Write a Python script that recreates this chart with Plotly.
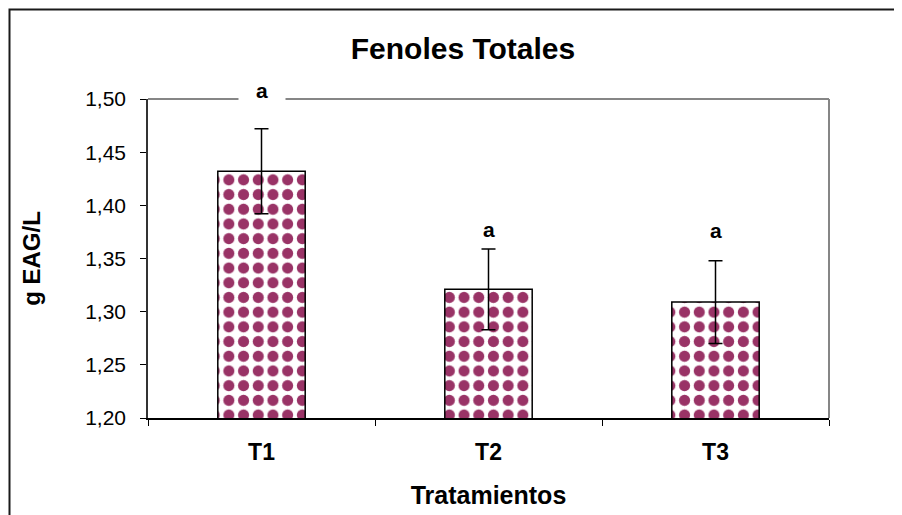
import plotly.graph_objects as go

categories = ["T1", "T2", "T3"]
values = [1.432, 1.321, 1.309]
errors = [0.040, 0.038, 0.039]
letters = ["a", "a", "a"]
letter_y = [1.5085, 1.378, 1.377]
y_ticks = [1.20, 1.25, 1.30, 1.35, 1.40, 1.45, 1.50]
y_tick_labels = ["1,20", "1,25", "1,30", "1,35", "1,40", "1,45", "1,50"]
Y_RANGE = [1.20, 1.50]

FONT = "Liberation Sans, Arial, sans-serif"
OFF = 8  # page body margin
W, H = 902 - OFF, 515 - OFF
ML, MT = 148 - OFF, 99 - OFF
PW, PH = 829 - 148, 418 - 99
MR, MB = W - ML - PW, H - MT - PH

fig = go.Figure()
fig.add_trace(go.Bar(
    x=categories, y=values,
    marker=dict(
        color="#993366",
        line=dict(color="black", width=1.5),
        pattern=dict(shape=".", fgcolor="#993366", bgcolor="white",
                     fillmode="replace", size=14.7, solidity=0.45),
    ),
    error_y=dict(type="data", array=errors, visible=True,
                 color="black", thickness=1.5, width=7),
    width=0.385,
    showlegend=False,
))

for c, t, ly in zip(categories, letters, letter_y):
    fig.add_annotation(x=c, y=(ly - Y_RANGE[0]) / (Y_RANGE[1] - Y_RANGE[0]),
                       xref="x", yref="paper", xanchor="center", yanchor="middle",
                       text="<b>" + t + "</b>",
                       showarrow=False, font=dict(family=FONT, size=21, color="black"),
                       bgcolor="white", width=44, height=20)

shapes = [
    dict(type="line", xref="paper", yref="paper", x0=0, x1=1, y0=1, y1=1,
         line=dict(color="#868686", width=2), layer="above"),
    dict(type="line", xref="paper", yref="paper", x0=1, x1=1, y0=0, y1=1,
         line=dict(color="#868686", width=2), layer="above"),
    dict(type="rect", xref="paper", yref="paper",
         x0=(1.5 - ML) / PW, x1=(W + 20 - ML) / PW,
         y0=-(MB + 20) / PH, y1=(PH + MT - 1.5) / PH,
         line=dict(color="#1a1a1a", width=2), layer="above"),
]
fig.update_layout(shapes=shapes)

fig.update_layout(
    width=W, height=H,
    margin=dict(l=ML, r=MR, t=MT, b=MB, autoexpand=False),
    paper_bgcolor="white", plot_bgcolor="white",
    title=dict(text="<b>Fenoles Totales</b>", x=(463 - OFF) / W, xanchor="center",
               y=1 - (48 - OFF) / H, yanchor="middle",
               font=dict(family=FONT, size=30, color="black")),
    font=dict(family=FONT, color="black"),
    bargap=0.6,
)
fig.update_xaxes(
    showline=True, linecolor="black", linewidth=1.5,
    ticks="outside", tickson="boundaries", ticklen=6, tickcolor="black", tickwidth=1,
    tickfont=dict(family=FONT, size=23, color="black"),
    tickvals=categories, ticktext=["<b>" + c + "</b>" for c in categories],
    ticklabelstandoff=13,
    title=dict(text="<b>Tratamientos</b>", font=dict(family=FONT, size=25, color="black"),
               standoff=22),
    showgrid=False, zeroline=False,
)
fig.update_yaxes(
    range=Y_RANGE,
    showline=True, linecolor="#333333", linewidth=1.5,
    ticks="outside", ticklen=6, tickcolor="black", tickwidth=1,
    tickvals=y_ticks, ticktext=y_tick_labels,
    tickfont=dict(family=FONT, size=21, color="black"),
    ticklabelstandoff=10,
    title=dict(text="<b>g EAG/L</b>", font=dict(family=FONT, size=24, color="black"),
               standoff=38),
    showgrid=False, zeroline=False,
)

fig.write_html("out.html")
